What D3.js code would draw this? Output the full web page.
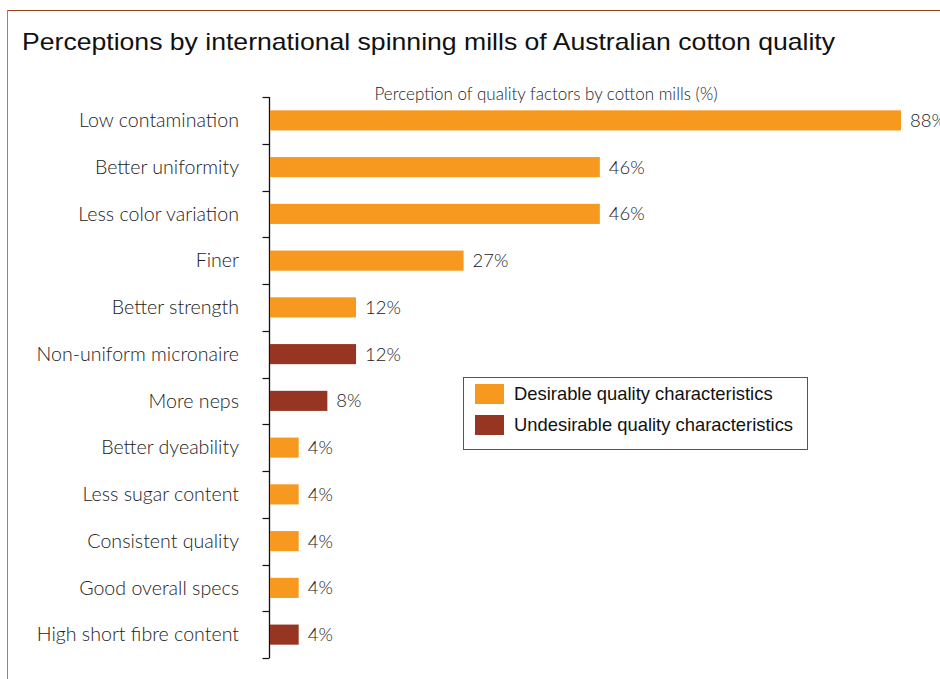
<!DOCTYPE html>
<html>
<head>
<meta charset="utf-8">
<script src="https://cdn.jsdelivr.net/npm/d3@7"></script>
<style>
  html, body { margin: 0; padding: 0; background: #fff; }
  svg { display: block; }
</style>
</head>
<body>
<svg id="chart" width="940" height="679"></svg>
<script>
// Survey results: share of mills citing each quality factor
const categories = [
  "Low contamination", "Better uniformity", "Less color variation", "Finer",
  "Better strength", "Non-uniform micronaire", "More neps", "Better dyeability",
  "Less sugar content", "Consistent quality", "Good overall specs", "High short fibre content"
];
const values = [88, 46, 46, 27, 12, 12, 8, 4, 4, 4, 4, 4];
// "D" = desirable, "U" = undesirable
const kinds = ["D", "D", "D", "D", "D", "U", "U", "D", "D", "D", "D", "U"];
const legendLabels = ["Desirable quality characteristics", "Undesirable quality characteristics"];

const colors = { D: "#f7991f", U: "#963622" };
const frameColor = "#9b3d12";
const labelFont = "Lato, 'Open Sans', sans-serif";

const svg = d3.select("#chart");

// outer frame (top and left edges)
svg.append("line").attr("x1", 7).attr("x2", 940).attr("y1", 10.5).attr("y2", 10.5)
  .attr("stroke", frameColor).attr("stroke-width", 1.2);
svg.append("line").attr("x1", 7.5).attr("x2", 7.5).attr("y1", 10).attr("y2", 679)
  .attr("stroke", "#b8795a").attr("stroke-width", 1);

svg.append("text")
  .attr("x", 22).attr("y", 50)
  .attr("font-family", "'Liberation Sans', Arial, sans-serif")
  .attr("font-size", 24)
  .attr("textLength", 813).attr("lengthAdjust", "spacingAndGlyphs")
  .attr("fill", "#111")
  .text("Perceptions by international spinning mills of Australian cotton quality");

svg.append("text")
  .attr("x", 546).attr("y", 100)
  .attr("text-anchor", "middle")
  .attr("font-family", labelFont).attr("font-weight", 300)
  .attr("font-size", 17)
  .attr("fill", "#222")
  .text("Perception of quality factors by cotton mills (%)");

const x = d3.scaleLinear().domain([0, 88]).range([270, 901]);
const y = d3.scaleBand().domain(categories).range([97, 658]).paddingInner(0.57).paddingOuter(0.285);

// category axis with boundary ticks
const axisX = 269.5;
svg.append("line").attr("x1", axisX).attr("x2", axisX).attr("y1", 97).attr("y2", 658)
  .attr("stroke", "#111").attr("stroke-width", 1.3);
const bounds = d3.range(categories.length + 1).map(i => 97 + i * (561 / categories.length));
svg.selectAll("line.tick").data(bounds).enter().append("line")
  .attr("class", "tick")
  .attr("x1", axisX - 7).attr("x2", axisX)
  .attr("y1", d => Math.round(d) + 0.5).attr("y2", d => Math.round(d) + 0.5)
  .attr("stroke", "#111").attr("stroke-width", 1.2);

svg.selectAll("text.cat").data(categories).enter().append("text")
  .attr("class", "cat")
  .attr("x", 239)
  .attr("y", d => y(d) + y.bandwidth() / 2)
  .attr("dy", "0.35em")
  .attr("text-anchor", "end")
  .attr("font-family", labelFont).attr("font-weight", 300)
  .attr("font-size", 19.6)
  .attr("fill", "#222")
  .text(d => d);

svg.selectAll("rect.bar").data(categories).enter().append("rect")
  .attr("class", "bar")
  .attr("x", x(0))
  .attr("y", d => y(d))
  .attr("width", (d, i) => x(values[i]) - x(0))
  .attr("height", y.bandwidth())
  .attr("fill", (d, i) => colors[kinds[i]]);

svg.selectAll("text.val").data(categories).enter().append("text")
  .attr("class", "val")
  .attr("x", (d, i) => x(values[i]) + 9)
  .attr("y", d => y(d) + y.bandwidth() / 2)
  .attr("dy", "0.35em")
  .attr("font-family", labelFont).attr("font-weight", 300)
  .attr("font-size", 18.5)
  .attr("fill", "#222")
  .text((d, i) => values[i] + "%");

// legend
const lg = svg.append("g").attr("transform", "translate(463.5,377.5)");
lg.append("rect").attr("width", 344).attr("height", 72)
  .attr("fill", "#fff").attr("stroke", frameColor).attr("stroke-width", 1);
legendLabels.forEach((t, i) => {
  lg.append("rect").attr("x", 11.5).attr("y", 6.5 + i * 31).attr("width", 29).attr("height", 20)
    .attr("fill", i === 0 ? colors.D : colors.U);
  lg.append("text").attr("x", 50.5).attr("y", 16.5 + i * 31).attr("dy", "0.35em")
    .attr("font-family", "'Liberation Sans', Arial, sans-serif")
    .attr("font-size", 18.4)
    .attr("fill", "#111")
    .text(t);
});
</script>
</body>
</html>
